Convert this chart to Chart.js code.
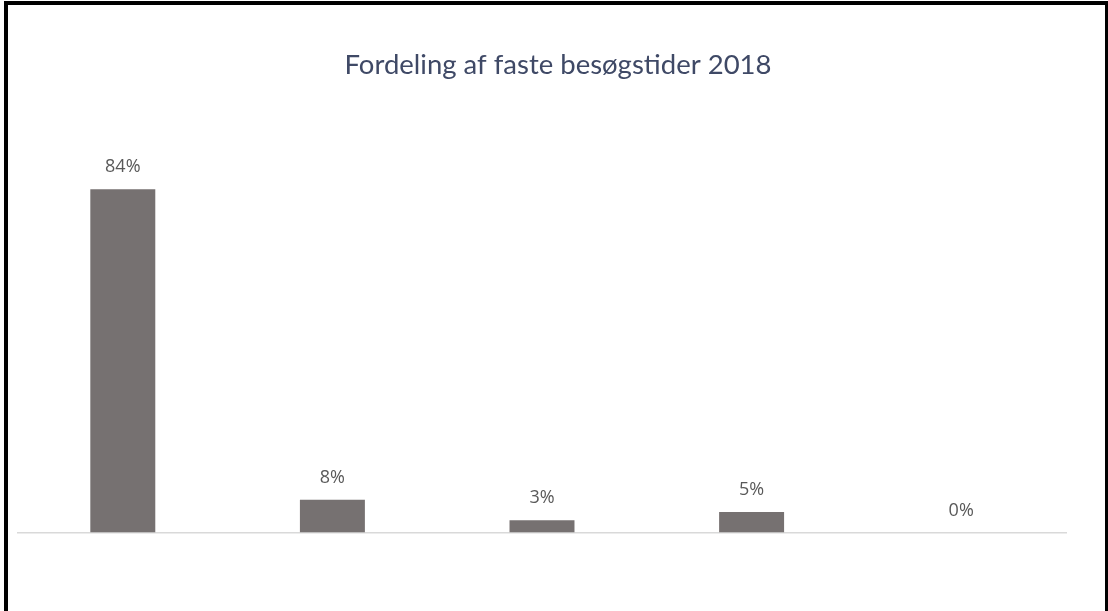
<!DOCTYPE html>
<html>
<head>
<meta charset="utf-8">
<script src="https://cdn.jsdelivr.net/npm/chart.js@4/dist/chart.umd.min.js"></script>
<style>
  html, body { margin: 0; padding: 0; background: #fff; }
  #wrap { position: relative; width: 1108px; height: 611px; overflow: hidden; }
  #frame { position: absolute; left: 4px; top: 1px; width: 1097px; height: 620px;
           border: 4px solid #000; border-bottom: none; box-sizing: content-box; pointer-events: none; }
  canvas { position: absolute; left: 0; top: 0; }
</style>
</head>
<body>
<div id="wrap">
  <canvas id="c" width="1108" height="611"></canvas>
  <div id="frame"></div>
</div>
<script>
const titleText = 'Fordeling af faste besøgstider 2018';
const categories = ['Gruppe 1', 'Gruppe 2', 'Gruppe 3', 'Gruppe 4', 'Gruppe 5'];
const shares = [84, 8, 3, 5, 0];

// Chart heading, centred on the full frame rather than the plot area
const heading = {
  id: 'heading',
  afterDraw(chart) {
    const ctx = chart.ctx;
    ctx.save();
    ctx.font = '27.5px Lato';
    ctx.fillStyle = '#3f4966';
    ctx.textAlign = 'center';
    ctx.textBaseline = 'alphabetic';
    ctx.fillText(titleText, 558, 74);
    ctx.restore();
  }
};

// Percentage labels drawn above each bar
const valueLabels = {
  id: 'valueLabels',
  afterDatasetsDraw(chart) {
    const ctx = chart.ctx;
    const meta = chart.getDatasetMeta(0);
    ctx.save();
    ctx.font = '18px "Open Sans"';
    ctx.fillStyle = '#595959';
    ctx.textAlign = 'center';
    ctx.textBaseline = 'middle';
    meta.data.forEach((bar, i) => {
      ctx.fillText(shares[i] + '%', bar.x, bar.y - 22);
    });
    ctx.restore();
  }
};

new Chart(document.getElementById('c'), {
  type: 'bar',
  data: {
    labels: categories,
    datasets: [{
      data: shares,
      backgroundColor: '#767171',
      borderWidth: 0,
      categoryPercentage: 1,
      barPercentage: 0.31
    }]
  },
  options: {
    responsive: false,
    animation: false,
    layout: { padding: { left: 18, right: 42, top: 124, bottom: 70.5 } },
    plugins: {
      legend: { display: false },
      tooltip: { enabled: false },
      title: { display: false }
    },
    scales: {
      x: {
        grid: { display: false },
        ticks: { display: false },
        border: { display: true, color: '#d9d9d9', width: 1.5 }
      },
      y: {
        display: false,
        min: 0,
        max: 100
      }
    }
  },
  plugins: [valueLabels, heading]
});
</script>
</body>
</html>
